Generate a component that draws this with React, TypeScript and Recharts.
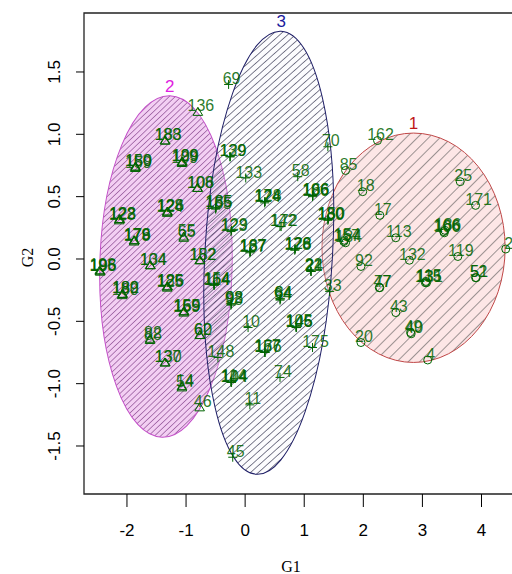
import React from "react";
import { ScatterChart, Scatter, XAxis, YAxis, ReferenceArea, Label } from "recharts";

// cluster 1 (circles, right ellipse)
const c1Labels = ["162", "85", "18", "25", "171", "17", "166", "186", "106", "113", "157", "184", "154", "2", "132", "119", "92", "135", "131", "115", "52", "51", "77", "47", "43", "49", "40", "20", "4"];
const c1X = [2.24, 1.7, 1.99, 3.64, 3.9, 2.28, 3.36, 3.38, 3.37, 2.55, 1.67, 1.7, 1.68, 4.41, 2.78, 3.6, 1.96, 3.05, 3.07, 3.06, 3.9, 3.91, 2.28, 2.27, 2.55, 2.8, 2.81, 1.96, 3.09];
const c1Y = [0.95, 0.71, 0.54, 0.62, 0.43, 0.35, 0.22, 0.23, 0.21, 0.17, 0.14, 0.13, 0.15, 0.08, -0.01, 0.02, -0.06, -0.19, -0.19, -0.18, -0.15, -0.15, -0.23, -0.23, -0.43, -0.59, -0.6, -0.67, -0.81];

// cluster 2 (triangles, left ellipse)
const c2Labels = ["136", "188", "183", "159", "189", "150", "109", "199", "129", "108", "106", "123", "128", "122", "124", "126", "128", "65", "55", "178", "176", "179", "195", "196", "198", "104", "134", "152", "182", "180", "182", "189", "125", "126", "185", "159", "169", "155", "62", "60", "88", "82", "137", "130", "54", "14", "46"];
const c2X = [-0.8, -1.36, -1.35, -1.86, -1.85, -1.86, -1.07, -1.06, -1.07, -0.81, -0.8, -2.13, -2.12, -2.13, -1.32, -1.31, -1.32, -1.04, -1.04, -1.88, -1.87, -1.88, -2.46, -2.45, -2.46, -1.61, -1.6, -0.77, -0.76, -2.08, -2.07, -2.08, -1.32, -1.31, -1.32, -1.04, -1.03, -1.04, -0.77, -0.76, -1.61, -1.61, -1.36, -1.35, -1.07, -1.07, -0.77];
const c2Y = [1.18, 0.95, 0.95, 0.73, 0.74, 0.74, 0.77, 0.78, 0.78, 0.57, 0.57, 0.31, 0.32, 0.32, 0.37, 0.38, 0.38, 0.17, 0.18, 0.14, 0.15, 0.15, -0.1, -0.1, -0.09, -0.05, -0.05, -0.01, -0.01, -0.29, -0.28, -0.28, -0.23, -0.22, -0.22, -0.43, -0.42, -0.42, -0.61, -0.61, -0.65, -0.64, -0.83, -0.83, -1.03, -1.02, -1.19];

// cluster 3 (plus signs, middle ellipse)
const c3Labels = ["69", "139", "129", "133", "58", "70", "124", "128", "174", "186", "166", "106", "142", "172", "123", "129", "130", "150", "180", "137", "187", "167", "178", "128", "126", "22", "24", "21", "33", "93", "98", "92", "94", "84", "64", "146", "145", "105", "10", "157", "176", "167", "175", "148", "144", "104", "114", "74", "11", "45", "164", "114", "154", "155", "185", "165"];
const c3X = [-0.28, -0.26, -0.25, 0.01, 0.89, 1.4, 0.33, 0.34, 0.33, 1.14, 1.15, 1.14, 0.59, 0.61, -0.24, -0.23, 1.4, 1.41, 1.4, 0.08, 0.09, 0.08, 0.84, 0.85, 0.84, 1.11, 1.12, 1.11, 1.43, -0.24, -0.23, -0.24, 0.59, 0.6, 0.59, 0.86, 0.87, 0.86, 0.05, 0.33, 0.34, 0.33, 1.14, -0.46, -0.24, -0.23, -0.24, 0.59, 0.08, -0.21, -0.53, -0.52, -0.53, -0.5, -0.49, -0.5];
const c3Y = [1.4, 0.82, 0.82, 0.65, 0.66, 0.9, 0.45, 0.46, 0.46, 0.5, 0.51, 0.51, 0.26, 0.26, 0.22, 0.23, 0.31, 0.32, 0.32, 0.05, 0.06, 0.06, 0.07, 0.08, 0.08, -0.09, -0.1, -0.1, -0.26, -0.37, -0.36, -0.36, -0.33, -0.32, -0.32, -0.55, -0.55, -0.54, -0.55, -0.75, -0.75, -0.74, -0.71, -0.79, -0.99, -0.99, -0.98, -0.95, -1.17, -1.59, -0.21, -0.21, -0.2, 0.4, 0.41, 0.41];

// cluster ellipses: center and half-axes in data units
const clusterIds = ["1", "2", "3"];
const ellipseCx = [2.85, -1.34, 0.4];
const ellipseCy = [0.09, -0.06, 0.05];
const ellipseRx = [1.55, 1.12, 1.08];
const ellipseRy = [0.92, 1.37, 1.78];

const xTicks = [-2, -1, 0, 1, 2, 3, 4];
const yTicks = [-1.5, -1, -0.5, 0, 0.5, 1, 1.5];
const xDomain = [-2.727, 4.55];
const yDomain = [-1.885, 1.973];

const ellipseTilt = [0, 1.3, 3.2];
const ellipseFill = ["#fde6e6", "#f3cff3", "#f4f5fb"];
const ellipseFillOpacity = [1, 1, 0.25];
const hatchColor = ["#4a4a4a", "#76307e", "#1c1c3a"];
const hatchGap = [8, 4.2, 5.2];
const borderColor = ["#c04848", "#c34fc8", "#1e1e66"];
const labelColor = ["#c01818", "#e020e0", "#1a1a9c"];

const green = "#006400";
const sans = "'Liberation Sans', Arial, sans-serif";
const serif = "'Liberation Serif', 'Times New Roman', serif";

const toPoints = (labels: string[], xs: number[], ys: number[]) =>
  labels.map((label, i) => ({ label, x: xs[i], y: ys[i] }));

const cluster1 = toPoints(c1Labels, c1X, c1Y);
const cluster2 = toPoints(c2Labels, c2X, c2Y);
const cluster3 = toPoints(c3Labels, c3X, c3Y);

const pointShape = (kind: "circle" | "triangle" | "plus") => (p: any) => {
  const { cx, cy, payload } = p;
  let mark;
  if (kind === "circle") {
    mark = <circle cx={cx} cy={cy} r={4} fill="none" stroke={green} strokeWidth={1} />;
  } else if (kind === "triangle") {
    mark = (
      <path
        d={`M${cx},${cy - 4.5}L${cx + 4.8},${cy + 3.5}L${cx - 4.8},${cy + 3.5}Z`}
        fill="none"
        stroke={green}
        strokeWidth={1}
      />
    );
  } else {
    mark = <path d={`M${cx - 4.5},${cy}h9M${cx},${cy - 4.5}v9`} stroke={green} strokeWidth={1} />;
  }
  return (
    <g>
      {mark}
      <text
        x={cx + 3}
        y={cy - 6}
        dy="0.35em"
        textAnchor="middle"
        fontSize={16}
        fontFamily={sans}
        fill={green}
        fillOpacity={0.85}
      >
        {payload.label}
      </text>
    </g>
  );
};

const ellipseShape = (i: number) => (p: any) => {
  const { x, y, width, height } = p;
  const cx = x + width / 2;
  const cy = y + height / 2;
  const rx = Math.abs(width) / 2;
  const ry = Math.abs(height) / 2;
  const rad = (ellipseTilt[i] * Math.PI) / 180;
  const tx = cx + ry * Math.sin(rad);
  const ty = cy - ry * Math.cos(rad);
  const rot = `rotate(${ellipseTilt[i]} ${cx} ${cy})`;
  return (
    <g>
      <ellipse cx={cx} cy={cy} rx={rx} ry={ry} transform={rot} fill={ellipseFill[i]} fillOpacity={ellipseFillOpacity[i]} />
      <ellipse
        cx={cx}
        cy={cy}
        rx={rx}
        ry={ry}
        transform={rot}
        fill={`url(#hatch${i})`}
        stroke={borderColor[i]}
        strokeWidth={1}
      />
      <text x={tx} y={ty - 4} textAnchor="middle" fontSize={17} fontFamily={sans} fill={labelColor[i]}>
        {clusterIds[i]}
      </text>
    </g>
  );
};

const renderG1 = (props: any) => {
  const vb = props.viewBox ?? { x: 84, y: 494 };
  return (
    <text x={vb.x + 207} y={vb.y + 78} textAnchor="middle" fontSize={16} fontFamily={serif} fill="#000">
      G1
    </text>
  );
};

const renderG2 = (props: any) => {
  const vb = props.viewBox ?? { x: 4, y: 13, height: 481 };
  const x = vb.x + 23;
  const y = vb.y + vb.height / 2 + 4;
  return (
    <text x={x} y={y} dy="0.35em" transform={`rotate(-90 ${x} ${y})`} textAnchor="middle" fontSize={16} fontFamily={serif} fill="#000">
      G2
    </text>
  );
};

const YTick = (props: any) => {
  const { x, y, payload } = props;
  return (
    <text x={x} y={y} dy="0.35em" transform={`rotate(-90 ${x} ${y})`} textAnchor="middle" fontSize={17} fontFamily={sans} fill="#000">
      {Number(payload.value).toFixed(1)}
    </text>
  );
};

export default function App() {
  return (
    <div style={{ position: "absolute", left: 0, top: 0, width: 512, height: 574, overflow: "hidden", background: "#fff" }}>
      <ScatterChart width={530} height={574} margin={{ top: 13, right: 16, bottom: 40, left: 4 }}>
        <defs>
          {clusterIds.map((id, i) => (
            <pattern
              key={id}
              id={`hatch${i}`}
              patternUnits="userSpaceOnUse"
              width={hatchGap[i]}
              height={hatchGap[i]}
              patternTransform="rotate(45)"
            >
              <line x1={0} y1={0} x2={0} y2={hatchGap[i]} stroke={hatchColor[i]} strokeWidth={1.1} />
            </pattern>
          ))}
        </defs>
        <XAxis
          type="number"
          dataKey="x"
          domain={xDomain}
          allowDataOverflow
          ticks={xTicks}
          interval={0}
          height={40}
          axisLine={false}
          tickLine={{ stroke: "#000" }}
          tickSize={13}
          tickMargin={17}
          tick={{ fill: "#000", fontSize: 17, fontFamily: sans }}
        >
          <Label content={renderG1} />
        </XAxis>
        <YAxis
          type="number"
          dataKey="y"
          domain={yDomain}
          allowDataOverflow
          ticks={yTicks}
          interval={0}
          width={80}
          axisLine={false}
          tickLine={{ stroke: "#000" }}
          tickSize={8}
          tickMargin={22}
          tick={<YTick />}
        >
          <Label content={renderG2} />
        </YAxis>
        {clusterIds.map((id, i) => (
          <ReferenceArea
            key={id}
            x1={ellipseCx[i] - ellipseRx[i]}
            x2={ellipseCx[i] + ellipseRx[i]}
            y1={ellipseCy[i] - ellipseRy[i]}
            y2={ellipseCy[i] + ellipseRy[i]}
            ifOverflow="visible"
            shape={ellipseShape(i)}
          />
        ))}
        <ReferenceArea
          x1={xDomain[0]}
          x2={xDomain[1]}
          y1={yDomain[0]}
          y2={yDomain[1]}
          ifOverflow="visible"
          fill="none"
          stroke="#222"
          strokeWidth={1.3}
        />
        <Scatter data={cluster1} shape={pointShape("circle")} isAnimationActive={false} />
        <Scatter data={cluster2} shape={pointShape("triangle")} isAnimationActive={false} />
        <Scatter data={cluster3} shape={pointShape("plus")} isAnimationActive={false} />
      </ScatterChart>
    </div>
  );
}
